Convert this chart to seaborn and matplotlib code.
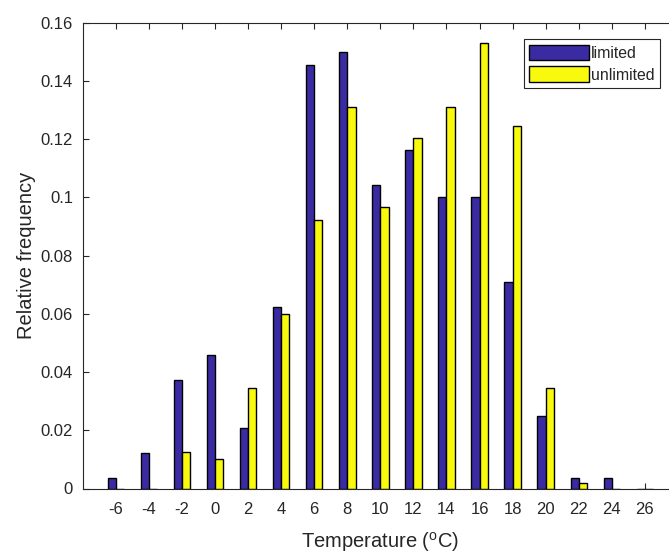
import matplotlib
matplotlib.use("Agg")
import matplotlib.pyplot as plt
import seaborn as sns
import pandas as pd
from matplotlib.patches import Patch
from matplotlib.ticker import FixedLocator, FixedFormatter

# data
temperatures = [-6, -4, -2, 0, 2, 4, 6, 8, 10, 12, 14, 16, 18, 20, 22, 24, 26]
limited = [0.0037, 0.0122, 0.0373, 0.0457, 0.0208, 0.0622, 0.1456, 0.1498, 0.1043,
           0.1163, 0.1000, 0.1000, 0.0708, 0.0250, 0.0036, 0.0036, 0.0]
unlimited = [0.0, 0.0, 0.0126, 0.0102, 0.0344, 0.0599, 0.0924, 0.1310, 0.0968,
             0.1204, 0.1311, 0.1529, 0.1245, 0.0344, 0.0019, 0.0, 0.0]
series_names = ["limited", "unlimited"]
y_ticks = [0, 0.02, 0.04, 0.06, 0.08, 0.1, 0.12, 0.14, 0.16]
y_tick_labels = ["0", "0.02", "0.04", "0.06", "0.08", "0.1", "0.12", "0.14", "0.16"]

BLUE = "#3a2ba3"
YELLOW = "#f9f90e"
TEXT = "#262626"

sns.set_theme(style="white")
plt.rcParams["font.family"] = ["Liberation Sans", "DejaVu Sans"]
plt.rcParams["mathtext.fontset"] = "custom"
plt.rcParams["mathtext.rm"] = "Liberation Sans"

df = pd.DataFrame({
    "Temperature": [str(t) for t in temperatures] * 2,
    "Series": [series_names[0]] * len(temperatures) + [series_names[1]] * len(temperatures),
    "Frequency": limited + unlimited,
})

fig = plt.figure(figsize=(6.69, 5.54), dpi=100)
# axes runs a little past the right edge, like the cropped original
ax = fig.add_axes([82.7 / 669, 65.5 / 554, 595.3 / 669, 465.8 / 554])

sns.barplot(
    data=df,
    x="Temperature",
    y="Frequency",
    hue="Series",
    order=[str(t) for t in temperatures],
    hue_order=series_names,
    palette=[BLUE, YELLOW],
    width=0.5,
    saturation=1,
    edgecolor="black",
    linewidth=1.0,
    ax=ax,
    legend=False,
)

ax.set_xlim(-1, len(temperatures))
ax.set_ylim(0, 0.16)
ax.yaxis.set_major_locator(FixedLocator(y_ticks))
ax.yaxis.set_major_formatter(FixedFormatter(y_tick_labels))

for s in ax.spines.values():
    s.set_color(TEXT)
    s.set_linewidth(0.8)

ax.tick_params(axis="both", direction="in", length=4, width=0.8, color=TEXT,
               labelsize=12, labelcolor=TEXT, top=True, right=False, left=True, bottom=True)
ax.tick_params(axis="x", pad=10)
ax.tick_params(axis="y", pad=7)

ax.set_xlabel("Temperature ($\\mathregular{^{o}}$C)", fontsize=14.5, color=TEXT, labelpad=9)
ax.set_ylabel("Relative frequency", fontsize=14.5, color=TEXT, labelpad=3)

handles = [Patch(facecolor=BLUE, edgecolor="black", linewidth=1.0),
           Patch(facecolor=YELLOW, edgecolor="black", linewidth=1.0)]
leg = fig.legend(
    handles, series_names,
    loc="upper right",
    bbox_to_anchor=(660 / 669, 1 - 39 / 554),
    fontsize=11.4,
    frameon=True,
    fancybox=False,
    framealpha=1,
    edgecolor=TEXT,
    handlelength=3.8,
    handleheight=1.15,
    handletextpad=0.1,
    labelspacing=0.35,
    borderpad=0.35,
    borderaxespad=0,
)
leg.get_frame().set_linewidth(0.8)
for t in leg.get_texts():
    t.set_color(TEXT)

fig.savefig("out.png", dpi=100)
